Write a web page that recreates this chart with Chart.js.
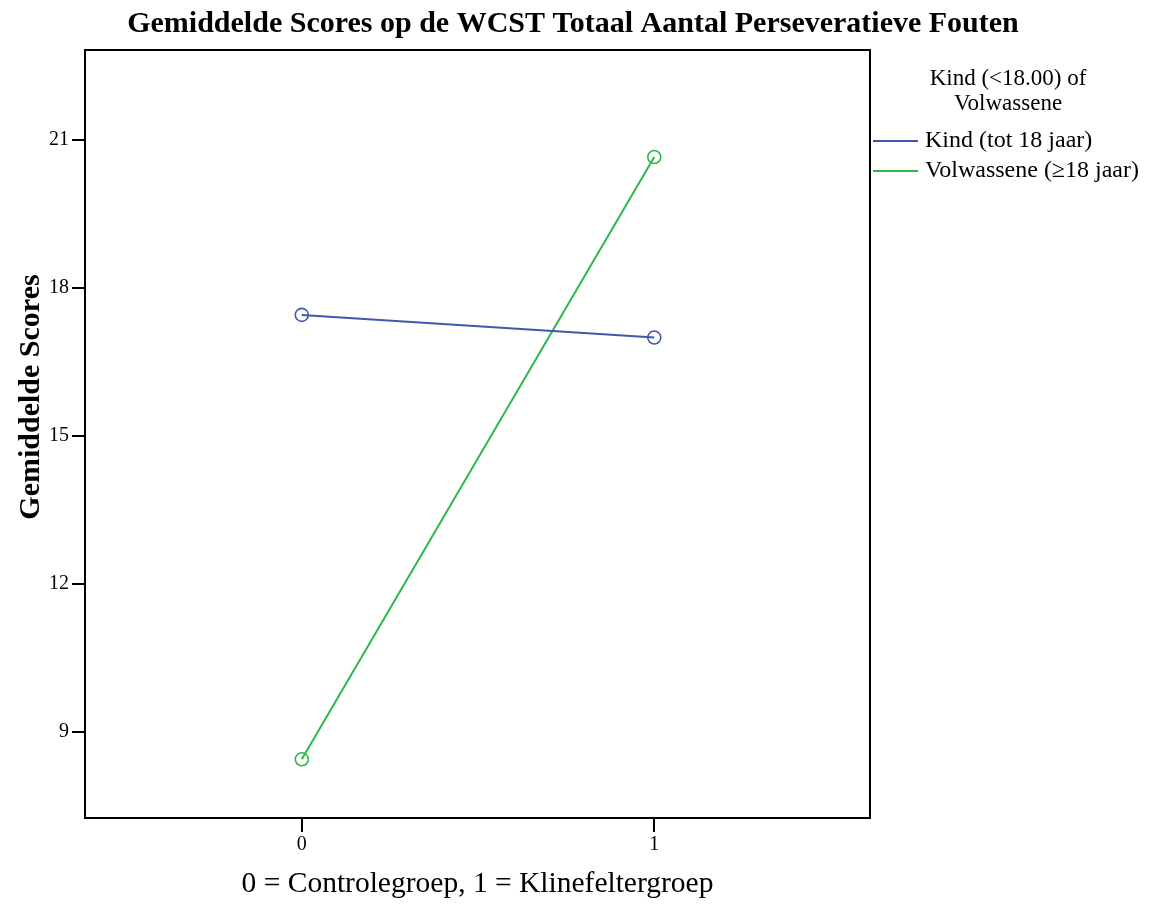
<!DOCTYPE html>
<html>
<head>
<meta charset="utf-8">
<script src="https://cdn.jsdelivr.net/npm/chart.js@4/dist/chart.umd.min.js"></script>
<style>
  html, body { margin: 0; padding: 0; background: #fff; }
  #wrap { width: 1156px; height: 904px; position: relative; }
</style>
</head>
<body>
<div id="wrap"><canvas id="wcst"></canvas></div>
<script>
// Gemiddelde scores WCST, interaction plot (groep x leeftijd)

const groups = [0, 1];
const seriesLabels = ['Kind (tot 18 jaar)', 'Volwassene (≥18 jaar)'];
const kindScores = [17.45, 16.99];
const volwasseneScores = [8.44, 20.65];
const yTickValues = [9, 12, 15, 18, 21];
const xTickValues = [0, 1];

const chartTitle = 'Gemiddelde Scores op de WCST Totaal Aantal Perseveratieve Fouten';
const yTitle = 'Gemiddelde Scores';
const xTitle = '0 = Controlegroep, 1 = Klinefeltergroep';
const legendTitle = ['Kind (<18.00) of', 'Volwassene'];

const COLORS = ['#3e58ac', '#2eb848'];
const SERIF = '"Liberation Serif", "Times New Roman", serif';

document.addEventListener('DOMContentLoaded', () => {
  const ctx = document.getElementById('wcst').getContext('2d');

  const toPoints = vals => groups.map((g, i) => ({ x: g, y: vals[i] }));

  const datasets = [kindScores, volwasseneScores].map((vals, i) => ({
    label: seriesLabels[i],
    data: toPoints(vals),
    borderColor: COLORS[i],
    backgroundColor: 'rgba(0,0,0,0)',
    borderWidth: 2,
    pointRadius: 6.5,
    pointBorderWidth: 1.6,
    pointStyle: 'circle',
    showLine: true,
    tension: 0
  }));

  // frame, titles and legend drawn by hand (SPSS look)
  const decorations = {
    id: 'decorations',
    afterDraw(chart) {
      const c = chart.ctx;
      const a = chart.chartArea;
      c.save();
      c.strokeStyle = '#000';
      c.lineWidth = 2;
      c.strokeRect(a.left, a.top, a.right - a.left, a.bottom - a.top);

      c.fillStyle = '#000';
      c.textBaseline = 'middle';
      c.textAlign = 'center';
      c.font = 'bold 30px ' + SERIF;
      c.fillText(chartTitle, 573, 24);

      c.save();
      c.translate(31, 397);
      c.rotate(-Math.PI / 2);
      c.font = 'bold 30px ' + SERIF;
      c.fillText(yTitle, 0, 0);
      c.restore();

      c.font = '23px ' + SERIF;
      legendTitle.forEach((t, i) => c.fillText(t, 1008, 79 + i * 25));

      c.textAlign = 'left';
      c.font = '24px ' + SERIF;
      chart.data.datasets.forEach((ds, i) => {
        const y = 141 + i * 30;
        c.strokeStyle = ds.borderColor;
        c.lineWidth = 2;
        c.beginPath();
        c.moveTo(873, y);
        c.lineTo(918, y);
        c.stroke();
        c.fillText(ds.label, 925, y);
      });
      c.restore();
    }
  };

  new Chart(ctx, {
    type: 'scatter',
    data: { datasets },
    options: {
      responsive: true,
      maintainAspectRatio: false,
      animation: false,
      layout: { padding: { left: 0, top: 50, right: 286, bottom: 0 } },
      plugins: {
        legend: { display: false },
        tooltip: { enabled: false },
        title: { display: false }
      },
      scales: {
        x: {
          type: 'linear',
          min: -0.615,
          max: 1.612,
          afterFit: s => { s.height = 86; },
          afterBuildTicks: s => { s.ticks = xTickValues.map(v => ({ value: v })); },
          grid: { drawOnChartArea: false, color: '#000', lineWidth: 2, tickLength: 14 },
          border: { color: '#000', width: 2 },
          ticks: { color: '#000', padding: 1, font: { family: SERIF, size: 20 } },
          title: {
            display: true,
            text: xTitle,
            color: '#000',
            padding: { top: 0, bottom: 2 },
            font: { family: SERIF, size: 29.5 }
          }
        },
        y: {
          min: 7.25,
          max: 22.82,
          afterFit: s => { s.width = 85; },
          afterBuildTicks: s => { s.ticks = yTickValues.map(v => ({ value: v })); },
          grid: { drawOnChartArea: false, color: '#000', lineWidth: 2, tickLength: 13 },
          border: { color: '#000', width: 2 },
          ticks: { color: '#000', padding: 3, font: { family: SERIF, size: 20 } }
        }
      }
    },
    plugins: [decorations]
  });
});
</script>
</body>
</html>
